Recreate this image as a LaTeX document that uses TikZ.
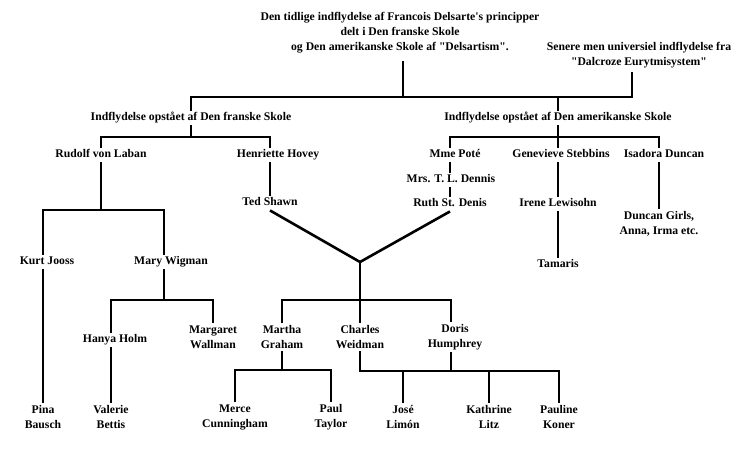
\documentclass[tikz,border=0pt]{standalone}
\usepackage{fontspec}
\setmainfont{Liberation Serif}[Ligatures=TeXOff]

\tikzset{
  navn/.style={font=\bfseries\fontsize{11.7}{15}\selectfont, align=center, inner sep=2pt},
  navnen/.style={navn, text height=8pt, text depth=2.5pt},
  streg/.style={line width=2.6pt},
}

\begin{document}
\begin{tikzpicture}[x=1pt,y=-1pt]
\useasboundingbox (0,0) rectangle (745,466);

\node[navn,outer sep=6pt] (title) at (400,33) {Den tidlige indflydelse af Francois Delsarte's principper\\delt i Den franske Skole\\og Den amerikanske Skole af "Delsartism".};
\node[navn,outer sep=2pt] (dalcroze) at (639,55) {Senere men universiel indflydelse fra\\"Dalcroze Eurytmisystem"};

\node[navnen] (french) at (191,118) {Indflydelse opstået af Den franske Skole};
\node[navnen] (american) at (558,118) {Indflydelse opstået af Den amerikanske Skole};

\node[navnen] (laban) at (101,155) {Rudolf von Laban};
\node[navnen] (hovey) at (278,155) {Henriette Hovey};
\node[navnen] (pote) at (455,155) {Mme Poté};
\node[navnen] (stebbins) at (561,155) {Genevieve Stebbins};
\node[navnen] (isadora) at (664,155) {Isadora Duncan};

\node[navnen] (dennis) at (451,180) {Mrs. T. L. Dennis};
\node[navnen] (shawn) at (270,203) {Ted Shawn};
\node[navnen] (ruth) at (450,204) {Ruth St. Denis};
\node[navnen] (lewisohn) at (558,204) {Irene Lewisohn};
\node[navn] (dgirls) at (659,224) {Duncan Girls,\\Anna, Irma etc.};

\node[navnen] (jooss) at (47,262) {Kurt Jooss};
\node[navnen] (wigman) at (171,262) {Mary Wigman};
\node[navnen] (tamaris) at (558,265) {Tamaris};

\node[navnen] (hanya) at (115,340) {Hanya Holm};
\node[navn] (margaret) at (213,337) {Margaret\\Wallman};
\node[navn] (martha) at (282,337) {Martha\\Graham};
\node[navn] (charles) at (360,337) {Charles\\Weidman};
\node[navn] (doris) at (455,337) {Doris\\Humphrey};

\node[navn] (pina) at (43,417) {Pina\\Bausch};
\node[navn] (valerie) at (111,417) {Valerie\\Bettis};
\node[navn] (merce) at (235,417) {Merce\\Cunningham};
\node[navn] (paul) at (331,417) {Paul\\Taylor};
\node[navn] (jose) at (403,417) {José\\Limón};
\node[navn] (kathrine) at (489,417) {Kathrine\\Litz};
\node[navn] (pauline) at (559,417) {Pauline\\Koner};

\coordinate (jtop) at (403,97);
\coordinate (jdal) at (632,97);
\coordinate (jfr) at (191,137);
\coordinate (jam) at (558,137);
\coordinate (jlab) at (101,210);
\coordinate (jv) at (360,262);
\coordinate (jwig) at (164,300);
\coordinate (jmid) at (360,300);
\coordinate (jmar) at (282,370);
\coordinate (jdor) at (451,371);

\draw[streg] (title.south -| jtop) -- (jtop);
\draw[streg] (french.north) |- (jdal) -- (jdal |- dalcroze.south);
\draw[streg] (american.north) -- (jam |- jtop);

\draw[streg] (french.south) -- (jfr);
\draw[streg] (laban.north) |- (jfr) -| ([xshift=-8pt]hovey.north);
\draw[streg] (american.south) -- (jam);
\draw[streg] ([xshift=-5pt]pote.north) |- (jam) -| ([xshift=-5pt]isadora.north);
\draw[streg] (jam) -- ([xshift=-3pt]stebbins.north);

\draw[streg] (pote.south -| ruth) -- (dennis.north -| ruth);
\draw[streg] (dennis.south -| ruth) -- (ruth.north);
\draw[streg] ([xshift=-8pt]hovey.south) -- (shawn.north);
\draw[streg] ([xshift=-3pt]stebbins.south) -- (lewisohn.north);
\draw[streg] (lewisohn.south) -- (tamaris.north);
\draw[streg] ([xshift=-5pt]isadora.south) -- (dgirls.north);

\draw[streg] (laban.south) -- (jlab);
\draw[streg] ([xshift=-4pt]jooss.north) |- (jlab) -| ([xshift=-7pt]wigman.north);
\draw[streg] ([xshift=-4pt]jooss.south) -- (pina.north);

\draw[streg] ([xshift=-7pt]wigman.south) -- (jwig);
\draw[streg] ([xshift=-4pt]hanya.north) |- (jwig) -| (margaret.north);
\draw[streg] ([xshift=-4pt]hanya.south) -- (valerie.north);

\draw[streg] (shawn.south) -- (jv) -- (ruth.south);
\draw[streg] (jv) -- (charles.north);
\draw[streg] (martha.north) |- (jmid) -| ([xshift=-4pt]doris.north);

\draw[streg] (martha.south) -- (jmar);
\draw[streg] (merce.north) |- (jmar) -| (paul.north);

\draw[streg] ([xshift=-4pt]doris.south) -- (jdor);
\draw[streg] (charles.south) |- (jdor) -| (pauline.north);
\draw[streg] (jose.north) -- (jose.north |- jdor);
\draw[streg] (kathrine.north) -- (kathrine.north |- jdor);
\end{tikzpicture}
\end{document}
